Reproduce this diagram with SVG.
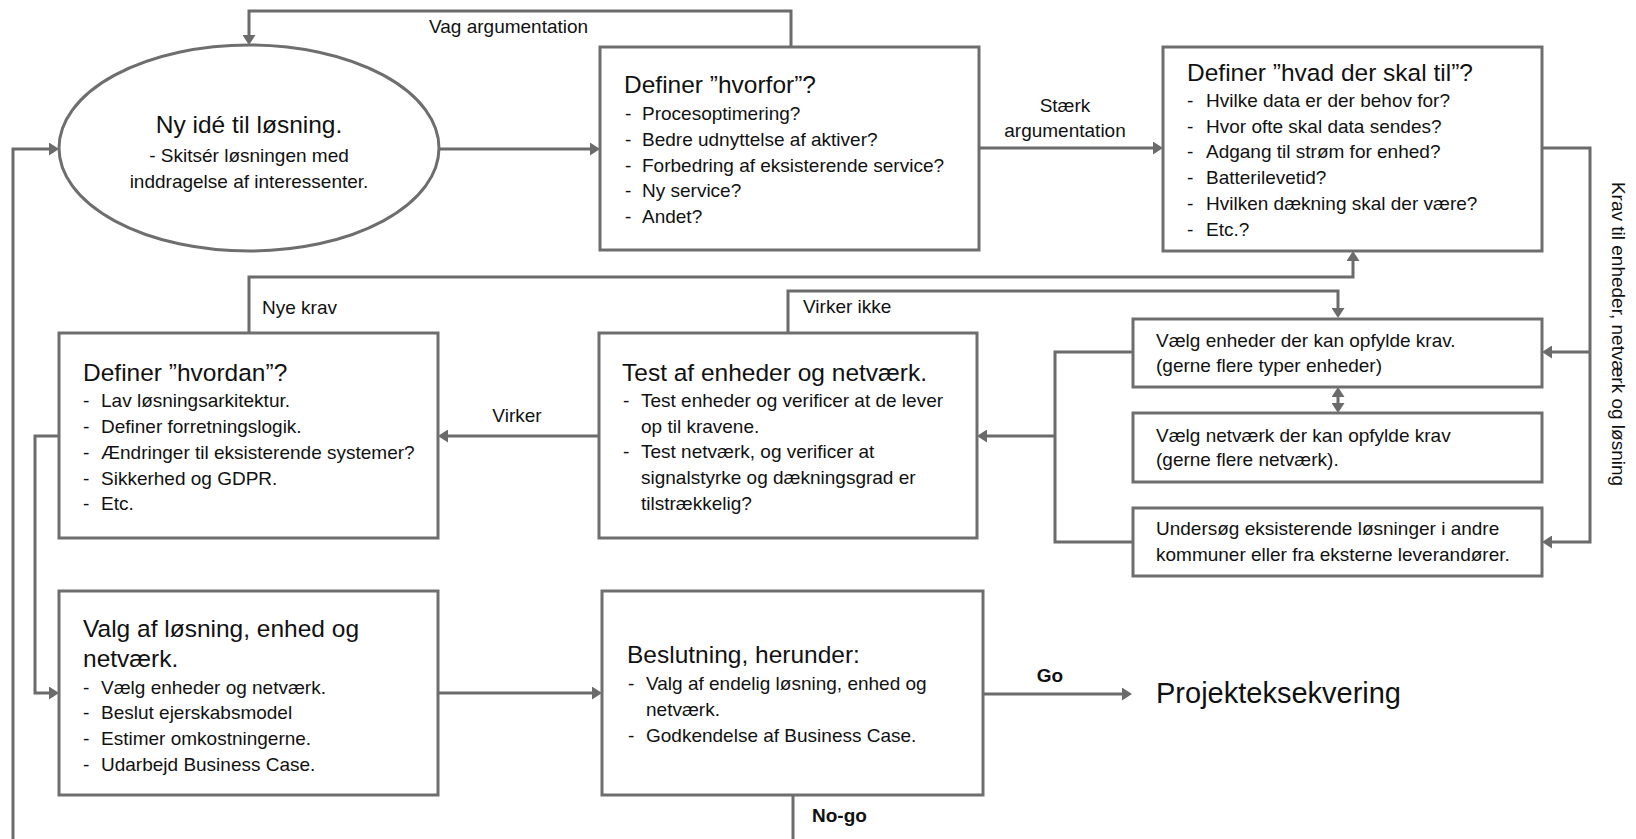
<svg xmlns="http://www.w3.org/2000/svg" width="1636" height="839" viewBox="0 0 1636 839">
<defs>
<style>
.bx{fill:#fff;stroke:#6e6e6e;stroke-width:3}
.ln{fill:none;stroke:#6b6b6b;stroke-width:3}
text{font-family:"Liberation Sans",Arial,sans-serif;fill:#111}
.t{font-size:24.5px}
.b{font-size:19px}
.l{font-size:19px}
.bold{font-size:19px;font-weight:bold}
.big{font-size:29px}
</style>
<marker id="arr" markerWidth="10" markerHeight="13" refX="5" refY="6.5" orient="auto-start-reverse" markerUnits="userSpaceOnUse">
<path d="M0,0 L10,6.5 L0,13 z" fill="#6b6b6b"/>
</marker>
</defs>
<rect width="1636" height="839" fill="#fff"/>

<g id="connectors">
<path class="ln" d="M791,47 V11 H249 V40" marker-end="url(#arr)"/>
<path class="ln" d="M13,839 V149 H54" marker-end="url(#arr)"/>
<path class="ln" d="M438,149 H595" marker-end="url(#arr)"/>
<path class="ln" d="M979,148 H1158" marker-end="url(#arr)"/>
<path class="ln" d="M1542,148 H1590 V542 H1547" marker-end="url(#arr)"/>
<path class="ln" d="M1590,352 H1547" marker-end="url(#arr)"/>
<path class="ln" d="M249,333 V277 H1353 V256" marker-end="url(#arr)"/>
<path class="ln" d="M788,333 V291 H1338 V313" marker-end="url(#arr)"/>
<path class="ln" d="M1338,392 V408" marker-start="url(#arr)" marker-end="url(#arr)"/>
<path class="ln" d="M1133,352 H1055 V542 H1133"/>
<path class="ln" d="M1055,436 H982" marker-end="url(#arr)"/>
<path class="ln" d="M599,436 H443" marker-end="url(#arr)"/>
<path class="ln" d="M59,436 H35 V693 H54" marker-end="url(#arr)"/>
<path class="ln" d="M438,693 H597" marker-end="url(#arr)"/>
<path class="ln" d="M983,694 H1127" marker-end="url(#arr)"/>
<path class="ln" d="M793,795 V839"/>
<text class="l" x="429" y="33">Vag argumentation</text>
<text class="l" x="1065" y="112" text-anchor="middle">Stærk</text>
<text class="l" x="1065" y="137" text-anchor="middle">argumentation</text>
<text class="l" x="262" y="314">Nye krav</text>
<text class="l" x="803" y="313">Virker ikke</text>
<text class="l" x="517" y="422" text-anchor="middle">Virker</text>
<text class="bold" x="1050" y="682" text-anchor="middle">Go</text>
<text class="bold" x="812" y="822">No-go</text>
<text class="l" transform="translate(1612,334) rotate(90)" text-anchor="middle">Krav til enheder, netværk og løsning</text>
</g>

<g id="idea">
<ellipse class="bx" cx="249" cy="148" rx="190" ry="103"/>
<text class="t" x="249" y="133" text-anchor="middle">Ny idé til løsning.</text>
<text class="b" x="249" y="162" text-anchor="middle">- Skitsér løsningen med</text>
<text class="b" x="249" y="188" text-anchor="middle">inddragelse af interessenter.</text>
</g>

<g id="hvorfor">
<rect class="bx" x="600" y="47" width="379" height="203"/>
<text class="t" x="624" y="93">Definer ”hvorfor”?</text>
<g class="b">
<text class="b" x="625" y="120">-</text><text class="b" x="642" y="120">Procesoptimering?</text>
<text class="b" x="625" y="146">-</text><text class="b" x="642" y="146">Bedre udnyttelse af aktiver?</text>
<text class="b" x="625" y="172">-</text><text class="b" x="642" y="172">Forbedring af eksisterende service?</text>
<text class="b" x="625" y="197">-</text><text class="b" x="642" y="197">Ny service?</text>
<text class="b" x="625" y="223">-</text><text class="b" x="642" y="223">Andet?</text>
</g>
</g>

<g id="hvad">
<rect class="bx" x="1163" y="47" width="379" height="204"/>
<text class="t" x="1187" y="81">Definer ”hvad der skal til”?</text>
<text class="b" x="1187" y="107">-</text><text class="b" x="1206" y="107">Hvilke data er der behov for?</text>
<text class="b" x="1187" y="133">-</text><text class="b" x="1206" y="133">Hvor ofte skal data sendes?</text>
<text class="b" x="1187" y="158">-</text><text class="b" x="1206" y="158">Adgang til strøm for enhed?</text>
<text class="b" x="1187" y="184">-</text><text class="b" x="1206" y="184">Batterilevetid?</text>
<text class="b" x="1187" y="210">-</text><text class="b" x="1206" y="210">Hvilken dækning skal der være?</text>
<text class="b" x="1187" y="236">-</text><text class="b" x="1206" y="236">Etc.?</text>
</g>

<g id="hvordan">
<rect class="bx" x="59" y="333" width="379" height="205"/>
<text class="t" x="83" y="381">Definer ”hvordan”?</text>
<text class="b" x="83" y="407">-</text><text class="b" x="101" y="407">Lav løsningsarkitektur.</text>
<text class="b" x="83" y="433">-</text><text class="b" x="101" y="433">Definer forretningslogik.</text>
<text class="b" x="83" y="459">-</text><text class="b" x="101" y="459">Ændringer til eksisterende systemer?</text>
<text class="b" x="83" y="485">-</text><text class="b" x="101" y="485">Sikkerhed og GDPR.</text>
<text class="b" x="83" y="510">-</text><text class="b" x="101" y="510">Etc.</text>
</g>

<g id="test">
<rect class="bx" x="599" y="333" width="378" height="205"/>
<text class="t" x="622" y="381">Test af enheder og netværk.</text>
<text class="b" x="623" y="407">-</text><text class="b" x="641" y="407">Test enheder og verificer at de lever</text>
<text class="b" x="641" y="433">op til kravene.</text>
<text class="b" x="623" y="458">-</text><text class="b" x="641" y="458">Test netværk, og verificer at</text>
<text class="b" x="641" y="484">signalstyrke og dækningsgrad er</text>
<text class="b" x="641" y="510">tilstrækkelig?</text>
</g>

<g id="enheder">
<rect class="bx" x="1133" y="319" width="409" height="68"/>
<text class="b" x="1156" y="347">Vælg enheder der kan opfylde krav.</text>
<text class="b" x="1156" y="372">(gerne flere typer enheder)</text>
</g>

<g id="netvaerk">
<rect class="bx" x="1133" y="413" width="409" height="69"/>
<text class="b" x="1156" y="442">Vælg netværk der kan opfylde krav</text>
<text class="b" x="1156" y="466">(gerne flere netværk).</text>
</g>

<g id="undersoeg">
<rect class="bx" x="1133" y="508" width="409" height="68"/>
<text class="b" x="1156" y="535">Undersøg eksisterende løsninger i andre</text>
<text class="b" x="1156" y="561">kommuner eller fra eksterne leverandører.</text>
</g>

<g id="valg">
<rect class="bx" x="59" y="591" width="379" height="204"/>
<text class="t" x="83" y="637">Valg af løsning, enhed og</text>
<text class="t" x="83" y="667">netværk.</text>
<text class="b" x="83" y="694">-</text><text class="b" x="101" y="694">Vælg enheder og netværk.</text>
<text class="b" x="83" y="719">-</text><text class="b" x="101" y="719">Beslut ejerskabsmodel</text>
<text class="b" x="83" y="745">-</text><text class="b" x="101" y="745">Estimer omkostningerne.</text>
<text class="b" x="83" y="771">-</text><text class="b" x="101" y="771">Udarbejd Business Case.</text>
</g>

<g id="beslutning">
<rect class="bx" x="602" y="591" width="381" height="204"/>
<text class="t" x="627" y="663">Beslutning, herunder:</text>
<text class="b" x="628" y="690">-</text><text class="b" x="646" y="690">Valg af endelig løsning, enhed og</text>
<text class="b" x="646" y="716">netværk.</text>
<text class="b" x="628" y="742">-</text><text class="b" x="646" y="742">Godkendelse af Business Case.</text>
</g>

<g id="projekt">
<text class="big" x="1156" y="703">Projekteksekvering</text>
</g>
</svg>
